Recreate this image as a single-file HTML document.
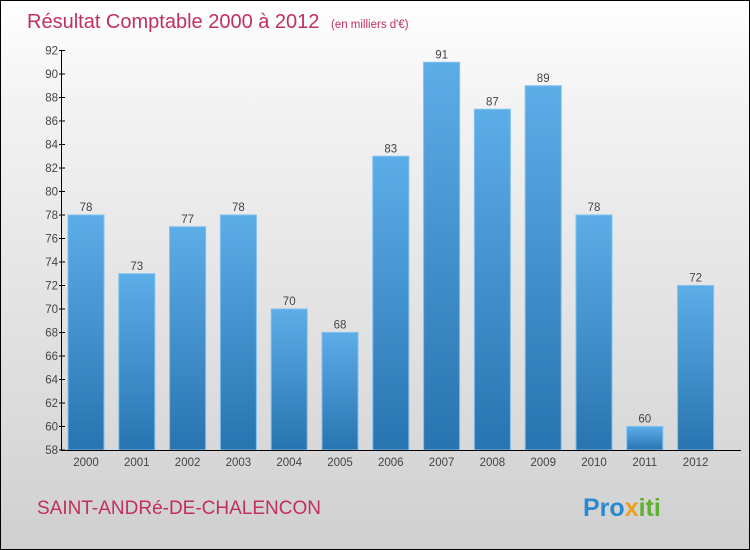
<!DOCTYPE html>
<html><head><meta charset="utf-8"><style>
body{margin:0;width:750px;height:550px;overflow:hidden}
#c{position:relative;width:748px;height:548px;border:1px solid #000;background:linear-gradient(#ffffff,#f2f2f2 20%,#d9d9d9 80%,#cfcfcf);font-family:"Liberation Sans",sans-serif}
</style></head><body>
<div id="c">
<svg width="748" height="548" style="position:absolute;left:0;top:0">
<defs><linearGradient id="bg" x1="0" y1="0" x2="0" y2="1"><stop offset="0" stop-color="#5dade8"/><stop offset="1" stop-color="#2874b0"/></linearGradient></defs>
<text x="26" y="27" font-size="20" fill="#c0305c">Résultat Comptable 2000 à 2012 <tspan font-size="11.5" dx="6">(en milliers d'€)</tspan></text>
<g id="plot"></g>
<text x="36" y="513" font-size="19" fill="#c0305c">SAINT-ANDRé-DE-CHALENCON</text>
<text x="582" y="515" font-size="25" font-weight="bold" fill="#2a8ad0">Pro<tspan fill="#e8a020">x</tspan><tspan fill="#60b030">iti</tspan></text>
</svg>
</div>
<script>
const years=["2000","2001","2002","2003","2004","2005","2006","2007","2008","2009","2010","2011","2012"];
const values=[78,73,77,78,70,68,83,91,87,89,78,60,72];
const yTicks=[58,60,62,64,66,68,70,72,74,76,78,80,82,84,86,88,90,92];
const NS="http://www.w3.org/2000/svg";
const g=document.getElementById('plot');
const y0=449,yMin=58,yMax=92,yTop=49.5;
const y=v=>y0-(v-yMin)*(y0-yTop)/(yMax-yMin);
const x=i=>85+i*50.8;
function mk(t,a){const e=document.createElementNS(NS,t);for(const k in a)e.setAttribute(k,a[k]);g.appendChild(e);return e;}
yTicks.forEach(v=>{
 const l=mk('line',{x1:58,x2:64,y1:y(v),y2:y(v),stroke:'#000'});
 
 
 const t=mk('text',{x:57,y:y(v)+4,'text-anchor':'end','font-size':11.5,fill:'#444'});
 t.textContent=v;
 
 
});
values.forEach((v,i)=>{
 const r=mk('rect',{x:x(i)-18,y:y(v),width:36,height:y0-y(v),fill:'url(#bg)',stroke:'#7cc0f0','stroke-width':1});
 
 
 const t=mk('text',{x:x(i),y:y(v)-4,'text-anchor':'middle','font-size':11.5,fill:'#444'});
 t.textContent=v;
 
 
 const tx=mk('text',{x:x(i),y:465,'text-anchor':'middle','font-size':11.5,fill:'#444'});
 tx.textContent=years[i];
 
 
});
const ya=mk('line',{x1:60.5,x2:60.5,y1:49,y2:450,stroke:'#000'});


const xa=mk('line',{x1:60,x2:740,y1:449.5,y2:449.5,stroke:'#000'});


</script>
</body></html>
